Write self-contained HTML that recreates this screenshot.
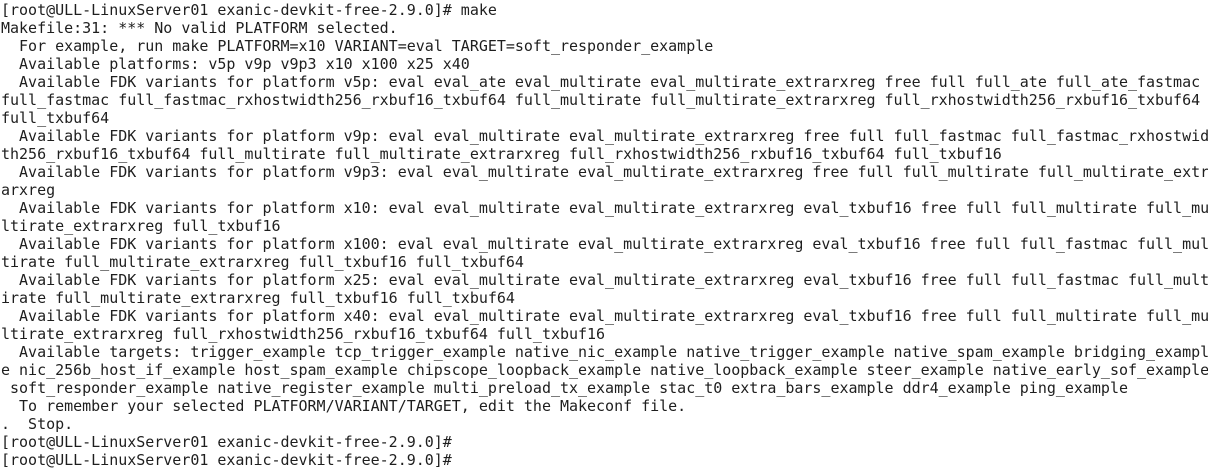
<!DOCTYPE html>
<html><head><meta charset="utf-8"><style>
html,body{margin:0;padding:0;background:#fff;width:1208px;height:471px;overflow:hidden}
pre{margin:0;position:absolute;left:1px;top:1px;font-family:"DejaVu Sans Mono","Liberation Mono",monospace;font-size:15px;line-height:18px;letter-spacing:-0.015px;color:#1e1e1e;white-space:pre}
</style></head><body><pre>[root@ULL-LinuxServer01 exanic-devkit-free-2.9.0]# make
Makefile:31: *** No valid PLATFORM selected.
  For example, run make PLATFORM=x10 VARIANT=eval TARGET=soft_responder_example
  Available platforms: v5p v9p v9p3 x10 x100 x25 x40
  Available FDK variants for platform v5p: eval eval_ate eval_multirate eval_multirate_extrarxreg free full full_ate full_ate_fastmac
full_fastmac full_fastmac_rxhostwidth256_rxbuf16_txbuf64 full_multirate full_multirate_extrarxreg full_rxhostwidth256_rxbuf16_txbuf64
full_txbuf64
  Available FDK variants for platform v9p: eval eval_multirate eval_multirate_extrarxreg free full full_fastmac full_fastmac_rxhostwid
th256_rxbuf16_txbuf64 full_multirate full_multirate_extrarxreg full_rxhostwidth256_rxbuf16_txbuf64 full_txbuf16
  Available FDK variants for platform v9p3: eval eval_multirate eval_multirate_extrarxreg free full full_multirate full_multirate_extr
arxreg
  Available FDK variants for platform x10: eval eval_multirate eval_multirate_extrarxreg eval_txbuf16 free full full_multirate full_mu
ltirate_extrarxreg full_txbuf16
  Available FDK variants for platform x100: eval eval_multirate eval_multirate_extrarxreg eval_txbuf16 free full full_fastmac full_mul
tirate full_multirate_extrarxreg full_txbuf16 full_txbuf64
  Available FDK variants for platform x25: eval eval_multirate eval_multirate_extrarxreg eval_txbuf16 free full full_fastmac full_mult
irate full_multirate_extrarxreg full_txbuf16 full_txbuf64
  Available FDK variants for platform x40: eval eval_multirate eval_multirate_extrarxreg eval_txbuf16 free full full_multirate full_mu
ltirate_extrarxreg full_rxhostwidth256_rxbuf16_txbuf64 full_txbuf16
  Available targets: trigger_example tcp_trigger_example native_nic_example native_trigger_example native_spam_example bridging_exampl
e nic_256b_host_if_example host_spam_example chipscope_loopback_example native_loopback_example steer_example native_early_sof_example
 soft_responder_example native_register_example multi_preload_tx_example stac_t0 extra_bars_example ddr4_example ping_example
  To remember your selected PLATFORM/VARIANT/TARGET, edit the Makeconf file.
.  Stop.
[root@ULL-LinuxServer01 exanic-devkit-free-2.9.0]#
[root@ULL-LinuxServer01 exanic-devkit-free-2.9.0]#</pre></body></html>
